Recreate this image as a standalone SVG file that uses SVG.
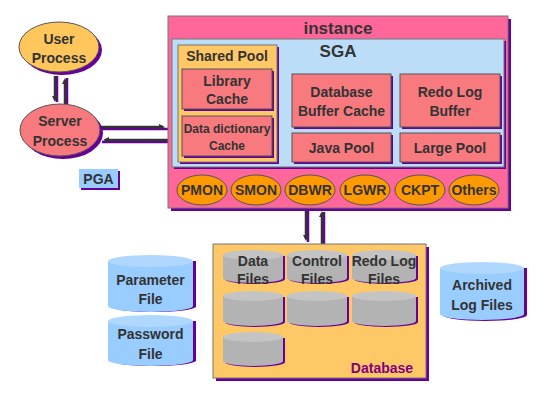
<svg xmlns="http://www.w3.org/2000/svg" xmlns:xlink="http://www.w3.org/1999/xlink" width="536" height="402" viewBox="0 0 536 402">
<style>
text{font-family:"Liberation Sans",Arial,sans-serif;font-weight:bold;fill:#333;text-anchor:middle}
.sh{fill:#660099}
.box{fill:#F87A7E;stroke:#555;stroke-width:1}
.proc{fill:#FF9900;stroke:#555;stroke-width:1}
.cylB{fill:#99CCFF}
.cylBt{fill:#B0D8FF}
.cylG{fill:#B3B3B3}
.cylGt{fill:#C4C4C4}
.ln{stroke:#333;stroke-width:2.5;fill:none}
.lsh{stroke:#660099;stroke-width:2.5;fill:none}
.t14{font-size:14px}
</style>
<defs>
<marker id="ah" markerWidth="6" markerHeight="6" refX="4" refY="3" orient="auto" markerUnits="userSpaceOnUse">
<path d="M0,0 L6,3 L0,6 Z" fill="#333"/>
</marker>
</defs>
<rect width="536" height="402" fill="#fff"/>

<g id="connectors">
<line class="lsh" x1="57" y1="76" x2="57" y2="102"/>
<line class="ln" x1="55" y1="76" x2="55" y2="100" marker-end="url(#ah)"/>
<line class="lsh" x1="67" y1="104" x2="67" y2="78"/>
<line class="ln" x1="65" y1="104" x2="65" y2="80" marker-end="url(#ah)"/>
<line class="lsh" x1="99" y1="129" x2="168" y2="129"/>
<line class="ln" x1="99" y1="127" x2="163" y2="127" marker-end="url(#ah)"/>
<line class="lsh" x1="168" y1="142" x2="102" y2="142"/>
<line class="ln" x1="168" y1="140" x2="105" y2="140" marker-end="url(#ah)"/>
<line class="lsh" x1="308" y1="208" x2="308" y2="242"/>
<line class="ln" x1="306" y1="208" x2="306" y2="239" marker-end="url(#ah)"/>
<line class="lsh" x1="324" y1="244" x2="324" y2="212"/>
<line class="ln" x1="322" y1="244" x2="322" y2="213" marker-end="url(#ah)"/>
</g>

<g id="user-process">
<ellipse class="sh" cx="62" cy="50" rx="40" ry="25"/>
<ellipse cx="59" cy="47" rx="40" ry="25" fill="#FFC65C" stroke="#555"/>
<text class="t14" x="59" y="44">User</text>
<text class="t14" x="59" y="63">Process</text>
</g>

<g id="server-process">
<ellipse class="sh" cx="63" cy="133" rx="40" ry="26"/>
<ellipse cx="60" cy="130" rx="40" ry="26" fill="#F87A7E" stroke="#555"/>
<text class="t14" x="60" y="126">Server</text>
<text class="t14" x="60" y="146">Process</text>
</g>

<g id="pga">
<rect class="sh" x="81" y="171" width="39" height="19"/>
<rect x="79" y="169" width="39" height="19" fill="#99CCFF"/>
<text class="t14" x="98.5" y="184">PGA</text>
</g>

<g id="instance">
<rect class="sh" x="171" y="19" width="340" height="192"/>
<rect x="168" y="16" width="340" height="192" fill="#FF6699" stroke="#777"/>
<text x="338" y="34" style="font-size:17px">instance</text>
</g>

<g id="sga">
<rect class="sh" x="174" y="41" width="332" height="128"/>
<rect x="172" y="39" width="332" height="128" fill="#BBDDF8" stroke="#777"/>
<text x="338" y="57" style="font-size:17px">SGA</text>
</g>

<g id="shared-pool">
<rect class="sh" x="180" y="47" width="99" height="117"/>
<rect x="178" y="45" width="99" height="117" fill="#FFC866" stroke="#777"/>
<text class="t14" x="227" y="61">Shared Pool</text>
</g>

<g id="library-cache">
<rect class="sh" x="184" y="71" width="90" height="40"/>
<rect class="box" x="182" y="69" width="90" height="40"/>
<text class="t14" x="227" y="86">Library</text>
<text class="t14" x="227" y="104">Cache</text>
</g>

<g id="data-dictionary-cache">
<rect class="sh" x="184" y="118" width="90" height="40"/>
<rect class="box" x="182" y="116" width="90" height="40"/>
<text x="227" y="133" style="font-size:12px">Data dictionary</text>
<text x="227" y="150" style="font-size:12px">Cache</text>
</g>

<g id="database-buffer-cache">
<rect class="sh" x="294" y="76" width="99" height="53"/>
<rect class="box" x="292" y="74" width="99" height="53"/>
<text class="t14" x="341.5" y="97">Database</text>
<text class="t14" x="341.5" y="116">Buffer Cache</text>
</g>

<g id="redo-log-buffer">
<rect class="sh" x="402" y="76" width="100" height="53"/>
<rect class="box" x="400" y="74" width="100" height="53"/>
<text class="t14" x="450" y="97">Redo Log</text>
<text class="t14" x="450" y="116">Buffer</text>
</g>

<g id="java-pool">
<rect class="sh" x="294" y="135" width="99" height="29"/>
<rect class="box" x="292" y="133" width="99" height="29"/>
<text class="t14" x="341.5" y="153">Java Pool</text>
</g>

<g id="large-pool">
<rect class="sh" x="402" y="135" width="100" height="29"/>
<rect class="box" x="400" y="133" width="100" height="29"/>
<text class="t14" x="450" y="153">Large Pool</text>
</g>

<g id="pmon"><ellipse class="proc" cx="202" cy="190" rx="25" ry="15"/><text class="t14" x="202" y="195">PMON</text></g>
<g id="smon"><ellipse class="proc" cx="256" cy="190" rx="25" ry="15"/><text class="t14" x="256" y="195">SMON</text></g>
<g id="dbwr"><ellipse class="proc" cx="310" cy="190" rx="25" ry="15"/><text class="t14" x="310" y="195">DBWR</text></g>
<g id="lgwr"><ellipse class="proc" cx="365" cy="190" rx="25" ry="15"/><text class="t14" x="365" y="195">LGWR</text></g>
<g id="ckpt"><ellipse class="proc" cx="420" cy="190" rx="25" ry="15"/><text class="t14" x="420" y="195">CKPT</text></g>
<g id="others"><ellipse class="proc" cx="474" cy="190" rx="25" ry="15"/><text class="t14" x="474" y="195">Others</text></g>

<g id="database">
<rect class="sh" x="216" y="247" width="213" height="134"/>
<rect x="213" y="244" width="213" height="134" fill="#FFC866" stroke="#777"/>
<text x="382" y="373" style="font-size:14px;fill:#800080">Database</text>
</g>

<g id="data-files">
<path class="sh" d="M225,256 V279 A30,5 0 0 0 285,279 V256 Z"/>
<path class="cylG" d="M223,255 V278 A30,5 0 0 0 283,278 V255 Z"/>
<ellipse class="cylGt" cx="253" cy="255" rx="30" ry="5"/>
<text class="t14" x="253" y="266">Data</text>
<text class="t14" x="253" y="284">Files</text>
</g>
<g id="control-files">
<path class="sh" d="M289,256 V279 A30,5 0 0 0 349,279 V256 Z"/>
<path class="cylG" d="M287,255 V278 A30,5 0 0 0 347,278 V255 Z"/>
<ellipse class="cylGt" cx="317" cy="255" rx="30" ry="5"/>
<text class="t14" x="317" y="266">Control</text>
<text class="t14" x="317" y="284">Files</text>
</g>
<g id="redo-log-files">
<path class="sh" d="M354,256 V279 A32,5 0 0 0 418,279 V256 Z"/>
<path class="cylG" d="M352,255 V278 A32,5 0 0 0 416,278 V255 Z"/>
<ellipse class="cylGt" cx="384" cy="255" rx="32" ry="5"/>
<text class="t14" x="384" y="266">Redo Log</text>
<text class="t14" x="384" y="284">Files</text>
</g>
<g id="data-file-2">
<path class="sh" d="M225,297 V322 A30,5 0 0 0 285,322 V297 Z"/>
<path class="cylG" d="M223,296 V321 A30,5 0 0 0 283,321 V296 Z"/>
<ellipse class="cylGt" cx="253" cy="296" rx="30" ry="5"/>
</g>
<g id="control-file-2">
<path class="sh" d="M289,297 V322 A30,5 0 0 0 349,322 V297 Z"/>
<path class="cylG" d="M287,296 V321 A30,5 0 0 0 347,321 V296 Z"/>
<ellipse class="cylGt" cx="317" cy="296" rx="30" ry="5"/>
</g>
<g id="redo-log-file-2">
<path class="sh" d="M354,297 V322 A32,5 0 0 0 418,322 V297 Z"/>
<path class="cylG" d="M352,296 V321 A32,5 0 0 0 416,321 V296 Z"/>
<ellipse class="cylGt" cx="384" cy="296" rx="32" ry="5"/>
</g>
<g id="data-file-3">
<path class="sh" d="M225,338 V362 A30,5 0 0 0 285,362 V338 Z"/>
<path class="cylG" d="M223,337 V361 A30,5 0 0 0 283,361 V337 Z"/>
<ellipse class="cylGt" cx="253" cy="337" rx="30" ry="5"/>
</g>

<g id="parameter-file">
<path class="sh" d="M111,261 V307 A43,6 0 0 0 196,307 V261 Z"/>
<path class="cylB" d="M108,261 V306 A42.5,6 0 0 0 193,306 V261 Z"/>
<ellipse class="cylBt" cx="150.5" cy="261" rx="42.5" ry="6"/>
<text class="t14" x="150.5" y="285">Parameter</text>
<text class="t14" x="150.5" y="304">File</text>
</g>
<g id="password-file">
<path class="sh" d="M111,321 V361 A43,6 0 0 0 196,361 V321 Z"/>
<path class="cylB" d="M108,321 V360 A42.5,6 0 0 0 193,360 V321 Z"/>
<ellipse class="cylBt" cx="150.5" cy="321" rx="42.5" ry="6"/>
<text class="t14" x="150.5" y="339">Password</text>
<text class="t14" x="150.5" y="359">File</text>
</g>
<g id="archived-log-files">
<path class="sh" d="M443,268 V315 A42,6 0 0 0 527,315 V268 Z"/>
<path class="cylB" d="M440,268 V314 A42,6 0 0 0 524,314 V268 Z"/>
<ellipse class="cylBt" cx="482" cy="268" rx="42" ry="6"/>
<text class="t14" x="482" y="290">Archived</text>
<text class="t14" x="482" y="310">Log Files</text>
</g>
</svg>
